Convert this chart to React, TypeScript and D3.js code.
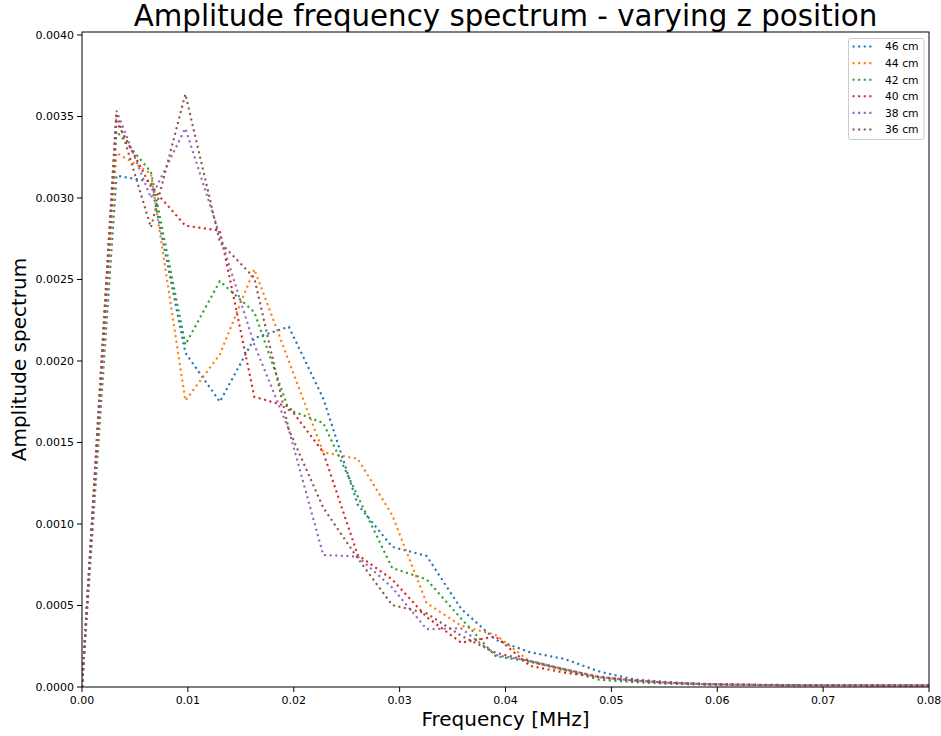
import React from "react";
import * as d3 from "d3";

const freq = [0, 0.003255, 0.00651, 0.009765, 0.01302, 0.016275, 0.01953, 0.022785, 0.02604, 0.029295, 0.03255, 0.035805, 0.03906, 0.042315, 0.04557, 0.048825, 0.05208, 0.055335, 0.05859, 0.061845, 0.0651, 0.068355, 0.07161, 0.074865, 0.07812, 0.081375];

const amp46 = [0, 0.003137, 0.0031, 0.00205, 0.00175, 0.00214, 0.00221, 0.00177, 0.00112, 0.00086, 0.000804, 0.00048, 0.00029, 0.000213, 0.000172, 0.000096, 0.000047, 0.00003, 0.00002, 0.000015, 0.000013, 0.000012, 0.000012, 0.000011, 0.000011, 0.00001];
const amp44 = [0, 0.003278, 0.00315, 0.001757, 0.00204, 0.002563, 0.002, 0.00144, 0.0014, 0.001055, 0.000515, 0.000376, 0.00032, 0.000155, 0.000104, 0.000066, 0.00004, 0.000027, 0.000018, 0.000014, 0.000012, 0.000012, 0.000011, 0.000011, 0.00001, 0.00001];
const amp42 = [0, 0.00341, 0.00316, 0.0021, 0.00249, 0.0023, 0.0017, 0.00162, 0.00117, 0.00073, 0.00066, 0.00042, 0.00019, 0.000155, 0.000104, 0.000045, 0.00003, 0.00002, 0.000015, 0.000013, 0.000012, 0.000011, 0.000011, 0.00001, 0.00001, 0.00001];
const amp40 = [0, 0.00347, 0.00307, 0.00283, 0.0028, 0.00178, 0.00172, 0.00144, 0.00081, 0.00066, 0.00043, 0.000272, 0.00031, 0.00013, 0.000088, 0.00006, 0.00004, 0.000026, 0.000018, 0.000014, 0.000012, 0.000011, 0.000011, 0.00001, 0.00001, 0.00001];
const amp38 = [0, 0.003536, 0.003, 0.003427, 0.00277, 0.0021, 0.00158, 0.00081, 0.0008, 0.00061, 0.000355, 0.00036, 0.000196, 0.00016, 0.00011, 0.00006, 0.00004, 0.000026, 0.000018, 0.000014, 0.000012, 0.000011, 0.000011, 0.00001, 0.00001, 0.00001];
const amp36 = [0, 0.00352, 0.00282, 0.003638, 0.00273, 0.00251, 0.00158, 0.0011, 0.00079, 0.000503, 0.000452, 0.000315, 0.00021, 0.00016, 0.00011, 0.00006, 0.00004, 0.000026, 0.000018, 0.000014, 0.000012, 0.000011, 0.000011, 0.00001, 0.00001, 0.00001];

const seriesLabels = ["46 cm", "44 cm", "42 cm", "40 cm", "38 cm", "36 cm"];
const seriesValues = [amp46, amp44, amp42, amp40, amp38, amp36];
const colors = ["#1f77b4", "#ff7f0e", "#2ca02c", "#d62728", "#9467bd", "#8c564b"];

const xTicks = [0, 0.01, 0.02, 0.03, 0.04, 0.05, 0.06, 0.07, 0.08];
const yTicks = [0, 0.0005, 0.001, 0.0015, 0.002, 0.0025, 0.003, 0.0035, 0.004];

const W = 941, H = 736;
const L = 82, R = 929, T = 32, B = 687;
const FONT = "'DejaVu Sans', sans-serif";

export default function App() {
  const x = d3.scaleLinear().domain([0, 0.08]).range([L, R]);
  const y = d3.scaleLinear().domain([0, 0.0040184]).range([B, T]);
  const line = d3.line<number>().x((_, i) => x(freq[i])).y((d) => y(d));

  return (
    <svg width={W} height={H} style={{ position: "fixed", left: 0, top: 0, background: "#fff" }} fontFamily={FONT}>
      <rect x={0} y={0} width={W} height={H} fill="#fff" />
      <defs>
        <clipPath id="plotclip">
          <rect x={L} y={T} width={R - L} height={B - T} />
        </clipPath>
      </defs>
      <g clipPath="url(#plotclip)">
        {seriesValues.map((vals, k) => (
          <path key={k} d={line(vals) || ""} fill="none" stroke={colors[k]} strokeWidth={2.1} strokeDasharray="2.1,3.5" />
        ))}
      </g>
      <rect x={L} y={T} width={R - L} height={B - T} fill="none" stroke="#000" strokeWidth={1} />
      {xTicks.map((t) => (
        <g key={"x" + t}>
          <line x1={x(t)} x2={x(t)} y1={B} y2={B + 5} stroke="#000" strokeWidth={1} />
          <text x={x(t)} y={B + 17} fontSize={11} textAnchor="middle" fill="#000">{d3.format(".2f")(t)}</text>
        </g>
      ))}
      {yTicks.map((t) => (
        <g key={"y" + t}>
          <line x1={L - 5} x2={L} y1={y(t)} y2={y(t)} stroke="#000" strokeWidth={1} />
          <text x={L - 8} y={y(t) + 4} fontSize={11} textAnchor="end" fill="#000">{d3.format(".4f")(t)}</text>
        </g>
      ))}
      <text x={(L + R) / 2} y={26} fontSize={29.3} textAnchor="middle" fill="#000">Amplitude frequency spectrum - varying z position</text>
      <text x={(L + R) / 2} y={726} fontSize={20} textAnchor="middle" fill="#000">Frequency [MHz]</text>
      <text transform={`translate(26, ${(T + B) / 2}) rotate(-90)`} fontSize={20} textAnchor="middle" fill="#000">Amplitude spectrum</text>
      <g>
        <rect x={848.5} y={38.5} width={75.5} height={101} rx={2.5} fill="#fff" fillOpacity={0.8} stroke="#cccccc" strokeWidth={1} />
        {seriesLabels.map((lab, k) => (
          <g key={lab}>
            <line x1={852.5} x2={874} y1={46.5 + k * 16.6} y2={46.5 + k * 16.6} stroke={colors[k]} strokeWidth={2.1} strokeDasharray="2.1,3.5" />
            <text x={885} y={50.3 + k * 16.6} fontSize={10.8} fill="#000">{lab}</text>
          </g>
        ))}
      </g>
    </svg>
  );
}
